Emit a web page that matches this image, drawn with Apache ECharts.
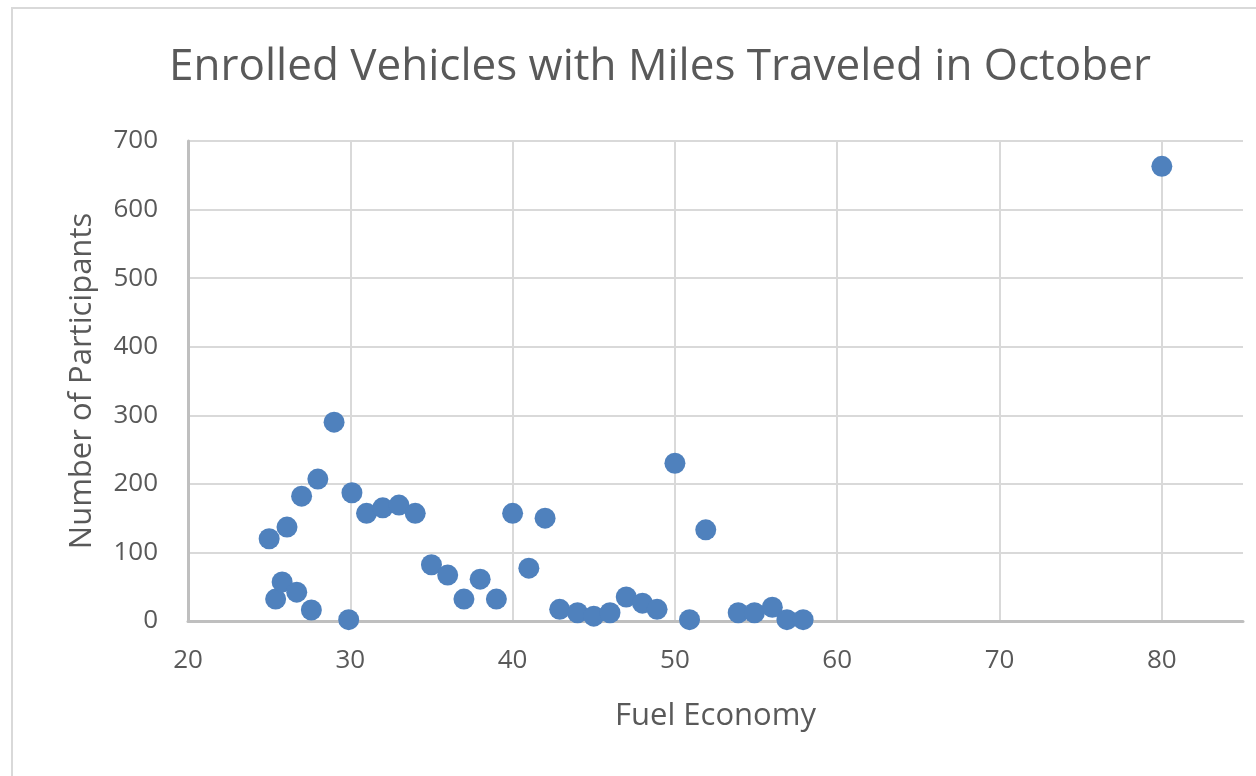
<!DOCTYPE html>
<html>
<head>
<meta charset="utf-8">
<title>Enrolled Vehicles with Miles Traveled in October</title>
<script src="https://cdn.jsdelivr.net/npm/echarts@6/dist/echarts.min.js"></script>
<style>
  html, body { margin: 0; padding: 0; background: #fff; }
  #chart { width: 1256px; height: 776px; }
</style>
</head>
<body>
<div id="chart"></div>
<script>
// fuel economy (mpg) of each enrolled vehicle group
const fuelEconomy = [25, 25.4, 25.8, 26.1, 26.7, 27, 27.6, 28, 29, 29.9,
  30.1, 31, 32, 33, 34, 35, 36, 37, 38, 39,
  40, 41, 42, 42.9, 44, 45, 46, 47, 48, 48.9,
  50, 50.9, 51.9, 53.9, 54.9, 56, 56.9, 57.9, 80];
// number of participants for each point
const participants = [120, 32, 57, 137, 42, 182, 16, 207, 290, 2,
  187, 157, 165, 169, 157, 82, 67, 32, 61, 32,
  157, 77, 150, 17, 12, 7, 12, 35, 26, 17,
  230, 2, 133, 12, 12, 20, 2, 2, 663];

const textColor = '#595959';
const font = 'Open Sans';

let chart = echarts.init(document.getElementById('chart'));
let option = {
  animation: false,
  graphic: [{
    type: 'rect',
    shape: { x: 12, y: 8, width: 1400, height: 900 },
    style: { fill: 'none', stroke: '#d9d9d9', lineWidth: 2 }
  }],
  title: {
    text: 'Enrolled Vehicles with Miles Traveled in October',
    left: 655,
    textAlign: 'center',
    top: 40,
    textStyle: { color: textColor, fontSize: 44, fontWeight: 'normal', fontFamily: font }
  },
  grid: { left: 188, right: 13, top: 141, bottom: 155 },
  xAxis: {
    type: 'value',
    min: 20,
    max: 85,
    interval: 10,
    name: 'Fuel Economy',
    nameLocation: 'middle',
    nameGap: 80,
    nameTextStyle: { color: textColor, fontSize: 31, fontFamily: font },
    axisLine: { onZero: false, lineStyle: { color: '#bfbfbf', width: 3 } },
    axisTick: { show: false },
    axisLabel: { color: textColor, fontSize: 26, fontFamily: font, margin: 27, showMaxLabel: false },
    splitLine: { show: true, showMaxLine: false, lineStyle: { color: '#d9d9d9', width: 2 } }
  },
  yAxis: {
    type: 'value',
    min: 0,
    max: 700,
    interval: 100,
    name: 'Number of Participants',
    nameLocation: 'middle',
    nameGap: 90,
    nameTextStyle: { color: textColor, fontSize: 31, fontFamily: font },
    axisLine: { show: true, lineStyle: { color: '#bfbfbf', width: 3 } },
    axisTick: { show: false },
    axisLabel: { color: textColor, fontSize: 26, fontFamily: font, margin: 30 },
    splitLine: { show: true, lineStyle: { color: '#d9d9d9', width: 2 } }
  },
  series: [{
    type: 'scatter',
    symbol: 'circle',
    symbolSize: 21,
    itemStyle: { color: '#4f81bd', opacity: 1 },
    data: fuelEconomy.map((x, i) => [x, participants[i]])
  }]
};
chart.setOption(option);
window.addEventListener('resize', function () { chart.resize(); });
</script>
</body>
</html>
